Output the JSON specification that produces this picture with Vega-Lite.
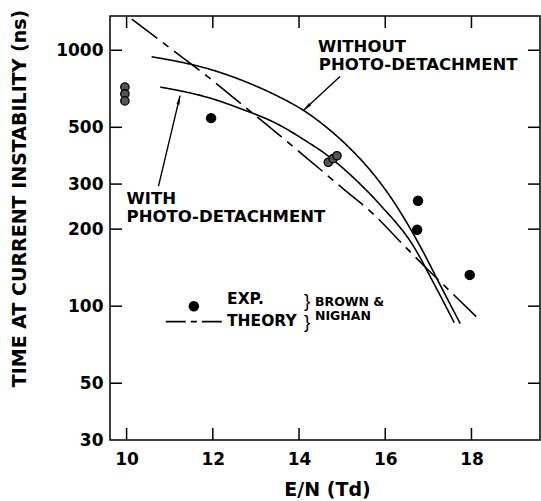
{
  "$schema": "https://vega.github.io/schema/vega-lite/v6.json",
  "width": 430,
  "height": 424,
  "autosize": {"type": "none"},
  "padding": {"left": 110, "top": 16, "right": 1, "bottom": 61},
  "background": "white",
  "config": {
    "view": {"stroke": "black", "strokeWidth": 1.5},
    "font": "DejaVu Sans",
    "axis": {
      "grid": false,
      "domain": false,
      "ticks": false,
      "labelColor": "black",
      "titleColor": "black",
      "labelFont": "DejaVu Sans",
      "labelFontWeight": "bold",
      "labelFontSize": 17,
      "titleFont": "DejaVu Sans",
      "titleFontWeight": "bold"
    }
  },
  "datasets": {
    "curves": [
      {"series": "without", "x": 10.58, "y": 943},
      {"series": "without", "x": 11.94, "y": 842},
      {"series": "without", "x": 12.71, "y": 759},
      {"series": "without", "x": 13.48, "y": 665},
      {"series": "without", "x": 14.14, "y": 577},
      {"series": "without", "x": 14.72, "y": 487},
      {"series": "without", "x": 15.18, "y": 414},
      {"series": "without", "x": 15.72, "y": 329},
      {"series": "without", "x": 16.11, "y": 269},
      {"series": "without", "x": 16.5, "y": 212},
      {"series": "without", "x": 16.88, "y": 163},
      {"series": "without", "x": 17.27, "y": 121.4},
      {"series": "without", "x": 17.74, "y": 85.5},
      {"series": "with", "x": 10.78, "y": 718},
      {"series": "with", "x": 11.94, "y": 650},
      {"series": "with", "x": 12.66, "y": 590},
      {"series": "with", "x": 13.48, "y": 517},
      {"series": "with", "x": 14.18, "y": 440},
      {"series": "with", "x": 14.59, "y": 396},
      {"series": "with", "x": 15.2, "y": 325},
      {"series": "with", "x": 15.87, "y": 250},
      {"series": "with", "x": 16.67, "y": 170},
      {"series": "with", "x": 17.08, "y": 127},
      {"series": "with", "x": 17.6, "y": 86.3},
      {"series": "theory", "x": 10.12, "y": 1323},
      {"series": "theory", "x": 11.0, "y": 1022},
      {"series": "theory", "x": 11.86, "y": 794},
      {"series": "theory", "x": 12.5, "y": 649},
      {"series": "theory", "x": 13.17, "y": 525},
      {"series": "theory", "x": 14.18, "y": 379},
      {"series": "theory", "x": 15.0, "y": 290},
      {"series": "theory", "x": 15.76, "y": 226},
      {"series": "theory", "x": 16.4, "y": 175},
      {"series": "theory", "x": 16.92, "y": 142.6},
      {"series": "theory", "x": 17.5, "y": 114.6},
      {"series": "theory", "x": 18.11, "y": 91},
      {"series": "key", "x": 10.91, "y": 87},
      {"series": "key", "x": 12.28, "y": 87}
    ],
    "tickpaths": [
      {"tick": "L50", "x": 9.615, "y": 50}, {"tick": "L50", "x": 9.893, "y": 50},
      {"tick": "L100", "x": 9.615, "y": 100}, {"tick": "L100", "x": 9.893, "y": 100},
      {"tick": "L200", "x": 9.615, "y": 200}, {"tick": "L200", "x": 9.893, "y": 200},
      {"tick": "L300", "x": 9.615, "y": 300}, {"tick": "L300", "x": 9.893, "y": 300},
      {"tick": "L500", "x": 9.615, "y": 500}, {"tick": "L500", "x": 9.893, "y": 500},
      {"tick": "L1000", "x": 9.615, "y": 1000}, {"tick": "L1000", "x": 9.893, "y": 1000},
      {"tick": "R50", "x": 19.312, "y": 50}, {"tick": "R50", "x": 19.59, "y": 50},
      {"tick": "R100", "x": 19.312, "y": 100}, {"tick": "R100", "x": 19.59, "y": 100},
      {"tick": "R200", "x": 19.312, "y": 200}, {"tick": "R200", "x": 19.59, "y": 200},
      {"tick": "R300", "x": 19.312, "y": 300}, {"tick": "R300", "x": 19.59, "y": 300},
      {"tick": "R500", "x": 19.312, "y": 500}, {"tick": "R500", "x": 19.59, "y": 500},
      {"tick": "R1000", "x": 19.312, "y": 1000}, {"tick": "R1000", "x": 19.59, "y": 1000},
      {"tick": "B10", "x": 10, "y": 30}, {"tick": "B10", "x": 10, "y": 33.43},
      {"tick": "B12", "x": 12, "y": 30}, {"tick": "B12", "x": 12, "y": 33.43},
      {"tick": "B14", "x": 14, "y": 30}, {"tick": "B14", "x": 14, "y": 33.43},
      {"tick": "B16", "x": 16, "y": 30}, {"tick": "B16", "x": 16, "y": 33.43},
      {"tick": "B18", "x": 18, "y": 30}, {"tick": "B18", "x": 18, "y": 33.43},
      {"tick": "T10", "x": 10, "y": 1221.6}, {"tick": "T10", "x": 10, "y": 1361},
      {"tick": "T12", "x": 12, "y": 1221.6}, {"tick": "T12", "x": 12, "y": 1361},
      {"tick": "T14", "x": 14, "y": 1221.6}, {"tick": "T14", "x": 14, "y": 1361},
      {"tick": "T16", "x": 16, "y": 1221.6}, {"tick": "T16", "x": 16, "y": 1361},
      {"tick": "T18", "x": 18, "y": 1221.6}, {"tick": "T18", "x": 18, "y": 1361}
    ],
    "exp": [
      {"x": 11.96, "y": 543},
      {"x": 16.76, "y": 258},
      {"x": 16.74, "y": 199},
      {"x": 17.96, "y": 132.5}
    ],
    "hatched": [
      {"x": 9.96, "y": 718},
      {"x": 9.96, "y": 675},
      {"x": 9.96, "y": 634},
      {"x": 14.68, "y": 365},
      {"x": 14.79, "y": 377},
      {"x": 14.88, "y": 387}
    ],
    "keydot": [{"x": 11.56, "y": 100}],
    "arrows": [
      {"x": 14.95, "y": 790, "x2": 14.1, "y2": 581.7},
      {"x": 10.74, "y": 294.6, "x2": 11.24, "y2": 665}
    ],
    "heads": [
      {"x": 14.1, "y": 581.7, "angle": 227},
      {"x": 11.24, "y": 665, "angle": 13}
    ],
    "notes": [
      {"label": "WITHOUT", "x": 14.44, "y": 1029},
      {"label": "PHOTO-DETACHMENT", "x": 14.46, "y": 873},
      {"label": "WITH", "x": 10.0, "y": 263},
      {"label": "PHOTO-DETACHMENT", "x": 10.0, "y": 224}
    ],
    "keynotes": [
      {"label": "EXP.", "x": 12.33, "y": 106.4},
      {"label": "THEORY", "x": 12.33, "y": 87.5}
    ],
    "refnotes": [
      {"label": "BROWN &", "x": 14.37, "y": 103.6},
      {"label": "NIGHAN", "x": 14.37, "y": 91.5}
    ],
    "braces": [
      {"label": "}", "x": 14.19, "y": 104.5},
      {"label": "}", "x": 14.19, "y": 86.7}
    ]
  },
  "encoding": {
    "x": {"field": "x", "type": "quantitative",
          "scale": {"domain": [9.615, 19.59], "nice": false, "zero": false},
          "axis": {"orient": "bottom", "values": [10, 12, 14, 16, 18], "format": "d",
                   "labelPadding": 11,
                   "title": "E/N (Td)", "titleFontSize": 19, "titleX": 217, "titleY": 49,
                   "titleBaseline": "middle", "titleAlign": "center"}},
    "y": {"field": "y", "type": "quantitative",
          "scale": {"type": "log", "domain": [30, 1361], "nice": false},
          "axis": {"orient": "left", "values": [30, 50, 100, 200, 300, 500, 1000], "format": "d",
                   "labelPadding": 7,
                   "title": "TIME AT CURRENT INSTABILITY (ns)", "titleFontSize": 19,
                   "titleX": -91, "titleY": 182, "titleAngle": 270,
                   "titleBaseline": "middle", "titleAlign": "center"}}
  },
  "layer": [
    {
      "data": {"name": "curves"},
      "mark": {"type": "line", "color": "black", "strokeWidth": 1.6, "interpolate": "monotone"},
      "encoding": {
        "detail": {"field": "series"},
        "strokeDash": {"field": "series", "type": "nominal", "legend": null,
                       "scale": {"domain": ["without", "with", "theory", "key"],
                                 "range": [[1, 0], [1, 0], [32, 7, 7, 7], [20, 5, 6, 5]]}}
      }
    },
    {
      "data": {"name": "tickpaths"},
      "mark": {"type": "line", "color": "black", "strokeWidth": 1.5},
      "encoding": {"detail": {"field": "tick"}}
    },
    {
      "data": {"name": "exp"},
      "mark": {"type": "point", "shape": "circle", "filled": true, "color": "black", "size": 110, "opacity": 1}
    },
    {
      "data": {"name": "hatched"},
      "mark": {"type": "point", "shape": "circle", "filled": true, "fill": "#555", "stroke": "black", "strokeWidth": 1.3, "size": 70, "opacity": 1}
    },
    {
      "data": {"name": "keydot"},
      "mark": {"type": "point", "shape": "circle", "filled": true, "color": "black", "size": 110, "opacity": 1}
    },
    {
      "data": {"name": "arrows"},
      "mark": {"type": "rule", "color": "black", "strokeWidth": 1.4},
      "encoding": {"x2": {"field": "x2"}, "y2": {"field": "y2"}}
    },
    {
      "data": {"name": "heads"},
      "mark": {"type": "point", "shape": "M0,0L0.45,2.6L-0.45,2.6Z", "filled": true, "color": "black", "size": 49, "opacity": 1},
      "encoding": {"angle": {"field": "angle", "type": "quantitative", "scale": null}}
    },
    {
      "data": {"name": "notes"},
      "mark": {"type": "text", "align": "left", "baseline": "middle", "font": "DejaVu Sans", "fontWeight": "bold", "fontSize": 16.5, "color": "black"},
      "encoding": {"text": {"field": "label"}}
    },
    {
      "data": {"name": "keynotes"},
      "mark": {"type": "text", "align": "left", "baseline": "middle", "font": "DejaVu Sans", "fontWeight": "bold", "fontSize": 15.5, "color": "black"},
      "encoding": {"text": {"field": "label"}}
    },
    {
      "data": {"name": "refnotes"},
      "mark": {"type": "text", "align": "left", "baseline": "middle", "font": "DejaVu Sans", "fontWeight": "bold", "fontSize": 12.5, "color": "black"},
      "encoding": {"text": {"field": "label"}}
    },
    {
      "data": {"name": "braces"},
      "mark": {"type": "text", "align": "center", "baseline": "middle", "font": "Liberation Sans", "fontSize": 19, "color": "black"},
      "encoding": {"text": {"field": "label"}}
    }
  ]
}
